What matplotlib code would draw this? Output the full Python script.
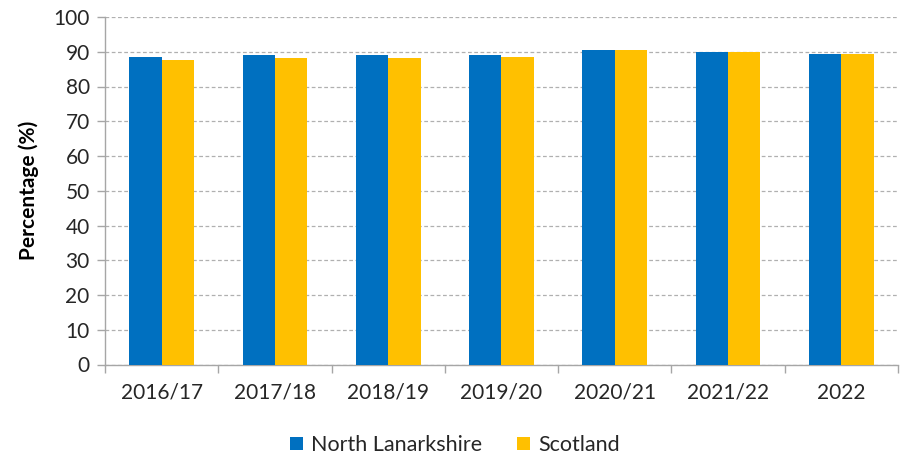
import matplotlib
matplotlib.use("Agg")
import matplotlib.pyplot as plt
import numpy as np
from matplotlib.ticker import FixedLocator

categories = ["2016/17", "2017/18", "2018/19", "2019/20", "2020/21", "2021/22", "2022"]
north_lanarkshire = [88.5, 89.1, 89.1, 89.1, 90.5, 89.8, 89.4]
scotland = [87.5, 88.1, 88.1, 88.5, 90.5, 89.8, 89.4]
yticks = list(range(0, 101, 10))

plt.rcParams['font.family'] = ['Lato', 'DejaVu Sans']

fig = plt.figure(figsize=(9.03, 4.54), dpi=100)
W, H = 903, 454
ax = fig.add_axes([105 / W, 1 - 364.5 / H, (898 - 105) / W, (364.5 - 17) / H])

x = np.arange(len(categories))
bw = 0.285
ax.bar(x - bw / 2, north_lanarkshire, bw, color="#0070C0", label="North Lanarkshire", zorder=3)
ax.bar(x + bw / 2, scotland, bw, color="#FFC000", label="Scotland", zorder=3)

ax.set_xlim(-0.5, len(categories) - 0.5)
ax.set_ylim(0, 100)
ax.set_yticks(yticks)
ax.yaxis.grid(True, color="#B0B0B0", linestyle=(0, (3, 2)), linewidth=0.9, zorder=0)
ax.set_axisbelow(True)

fs = 15
ax.set_xticks(x)
ax.set_xticklabels(categories)
ax.xaxis.set_minor_locator(FixedLocator(np.arange(-0.5, len(categories) + 0.5, 1)))
ax.tick_params(axis="x", which="major", length=0, pad=13, labelsize=fs, colors="#262626")
ax.tick_params(axis="x", which="minor", length=6, color="#A6A6A6", width=1)
ax.tick_params(axis="y", length=6, color="#A6A6A6", width=1, labelsize=fs, colors="#262626", pad=5)

for s in ["top", "right"]:
    ax.spines[s].set_visible(False)
for s in ["left", "bottom"]:
    ax.spines[s].set_color("#A6A6A6")
    ax.spines[s].set_linewidth(1)

ax.set_ylabel("Percentage (%)", fontsize=fs, fontweight="bold", color="#000000", labelpad=10)

leg = fig.legend(loc="center", bbox_to_anchor=(455 / W, 1 - 445 / H), ncol=2, frameon=False,
                 fontsize=15.5, handlelength=0.6, handleheight=0.6, columnspacing=1.6, handletextpad=0.4)
for t in leg.get_texts():
    t.set_color("#262626")

fig.savefig("out.png", dpi=100)
